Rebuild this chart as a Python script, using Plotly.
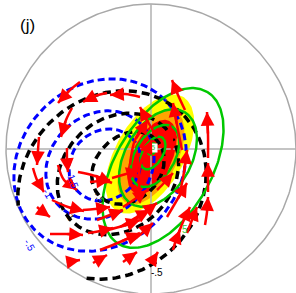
import numpy as np
import plotly.graph_objects as go

R = 145.0  # domain radius (data units)

# ---- shaded field (filled contours) ----
shade_colors = ['#ffff00', '#ffa500', '#ff0000']
shade_cx = [-1, 0, 1]
shade_cy = [-5, -8, -8]
shade_a = [66, 52, 40]
shade_b = [34, 26, 20]
shade_ang = [60, 62, 65]

# ---- green solid contours ----
green_cx = [12, 7, 4, 2, 1]
green_cy = [-19, -9, -7, -4, 0]
green_a = [88, 53, 34, 18, 6]
green_b = [48, 33, 20, 10, 4]
green_ang = [60, 60, 60, 60, 60]

# ---- black dashed contours ----
black_cx = [-39, -33, -23]
black_cy = [-36, -25, -19]
black_a = [100, 66, 40]
black_b = [88, 55, 32]
black_ang = [45, 45, 45]

# ---- blue dashed contours ----
blue_cx = [-51, -51, -46]
blue_cy = [-16, -16, -16]
blue_a = [92, 58, 38]
blue_b = [80, 50, 34]
blue_ang = [45, 45, 45]

# ---- red streamline arrows: tail, mid, head ----
tail_x = [-71, -44, -11, -79, -112, -84, -118, -93, -73, -114, -99, -68, -101, -63, -84, -58, -28, -51, -44, -31,
          -21, -1, 22, 36, 54, 57, 57, 34, 31, 6, -61, -39, -54, -28, -18, 6, 16, 29, 26, -11, 14, -21]
tail_y = [67, 56, 52, 41, 12, 1, -19, -16, -23, -58, -51, -61, -85, -84, -114, -114, -113, -101, -81, -78,
          -94, -114, -101, -84, -76, -43, -9, 39, -1, 12, -33, -29, -71, -58, -73, -41, -68, -44, -88, -46, -26, -16]
mid_x = [-81, -56, -26, -85, -113, -84, -114, -87, -56, -108, -83, -56, -85, -51, -77, -51, -21, -31, -28, -16,
         -9, 3, 25, 41, 56, 57, 57, 27, 26, -3, -51, -25, -41, -16, -6, 14, 26, 33, 32, -11, 21, -16]
mid_y = [59, 53, 55, 29, -1, -11, -31, -31, -27, -63, -58, -60, -85, -82, -112, -110, -108, -93, -77, -69,
         -84, -109, -91, -71, -63, -29, 14, 54, 24, 27, -32, -25, -66, -50, -63, -33, -51, -23, -73, -16, -1, 9]
head_x = [-93, -68, -41, -90, -114, -83, -107, -74, -39, -101, -67, -41, -68, -38, -71, -44, -14, -11, -11, -1,
          2, 7, 29, 46, 57, 57, 56, 21, 22, -11, -41, -11, -28, -4, 6, 22, 36, 36, 39, 1, 19, -3]
head_y = [46, 47, 54, 12, -16, -23, -43, -41, -34, -68, -62, -58, -86, -79, -111, -106, -103, -84, -71, -61,
          -74, -103, -81, -58, -48, -14, 37, 69, 46, 42, -31, -21, -61, -41, -54, -24, -34, -1, -58, 9, 24, 29]

# ---- contour labels ----
lab_text = ['-.5', '-1', '-.5', '-1.5', '-1', '-.5', '5']
lab_x = [6, -81, -51, -78, -103, -121, 34]
lab_y = [-123, -66, -48, -31, -44, -96, -80]
lab_color = ['black', 'black', 'black', 'blue', 'blue', 'blue', '#33cc33']
lab_angle = [0, 60, 50, 70, 60, 60, 0]

# centre marker
centre_x = [2]
centre_y = [1]


def ellipse(cx, cy, a, b, ang, clip=True):
    t = np.linspace(0, 2 * np.pi, 241)
    th = np.deg2rad(ang)
    x = cx + a * np.cos(t) * np.cos(th) - b * np.sin(t) * np.sin(th)
    y = cy + a * np.cos(t) * np.sin(th) + b * np.sin(t) * np.cos(th)
    xs, ys = [], []
    for xi, yi in zip(x, y):
        if clip and xi * xi + yi * yi > R * R:
            xs.append(None); ys.append(None)
        else:
            xs.append(float(xi)); ys.append(float(yi))
    return xs, ys


fig = go.Figure()

# shaded
for c, cx, cy, a, b, ang in zip(shade_colors, shade_cx, shade_cy, shade_a, shade_b, shade_ang):
    xs, ys = ellipse(cx, cy, a, b, ang, clip=False)
    fig.add_trace(go.Scatter(x=xs, y=ys, mode='lines', fill='toself', fillcolor=c,
                             line=dict(width=0, color=c), hoverinfo='skip', showlegend=False))

# domain circle + cross
tc = np.linspace(0, 2 * np.pi, 361)
fig.add_trace(go.Scatter(x=R * np.cos(tc), y=R * np.sin(tc), mode='lines',
                         line=dict(color='#a8a8a8', width=1.5), hoverinfo='skip', showlegend=False))
fig.add_trace(go.Scatter(x=[-R, R, None, 0, 0], y=[0, 0, None, -R, R], mode='lines',
                         line=dict(color='#b0b0b0', width=1.5), hoverinfo='skip', showlegend=False))


def family(cxs, cys, As, Bs, angs, color, width, dash):
    X, Y = [], []
    for cx, cy, a, b, ang in zip(cxs, cys, As, Bs, angs):
        xs, ys = ellipse(cx, cy, a, b, ang)
        X += xs + [None]; Y += ys + [None]
    fig.add_trace(go.Scatter(x=X, y=Y, mode='lines', line=dict(color=color, width=width, dash=dash),
                             hoverinfo='skip', showlegend=False))


family(blue_cx, blue_cy, blue_a, blue_b, blue_ang, '#0000ff', 3, '7px,4px')
family(black_cx, black_cy, black_a, black_b, black_ang, '#000000', 3.5, '8px,5px')
family(green_cx, green_cy, green_a, green_b, green_ang, '#00c800', 2.5, 'solid')

fig.add_trace(go.Scatter(x=centre_x, y=centre_y, mode='markers+text', text=['5'],
                         textfont=dict(size=8, color='#33cc33', family='Liberation Sans'),
                         textposition='middle center',
                         marker=dict(symbol='square', size=9, color='white'),
                         hoverinfo='skip', showlegend=False))

# red streamlines
SX, SY = [], []
for x0, y0, xm, ym, x1, y1 in zip(tail_x, tail_y, mid_x, mid_y, head_x, head_y):
    SX += [x0, xm, x1, None]; SY += [y0, ym, y1, None]
fig.add_trace(go.Scatter(x=SX, y=SY, mode='lines', line=dict(color='#ff0000', width=2.5, shape='spline'),
                         hoverinfo='skip', showlegend=False))

ann = []
for xm, ym, x1, y1 in zip(mid_x, mid_y, head_x, head_y):
    ann.append(dict(x=x1, y=y1, ax=xm, ay=ym, xref='x', yref='y', axref='x', ayref='y',
                    showarrow=True, arrowhead=2, arrowsize=1.1, arrowwidth=2.5,
                    arrowcolor='#ff0000', standoff=0, text=''))

for t, x, y, c, a in zip(lab_text, lab_x, lab_y, lab_color, lab_angle):
    ann.append(dict(x=x, y=y, xref='x', yref='y', text=t, showarrow=False, textangle=a,
                    font=dict(family='Liberation Sans', size=10, color=c)))

ann.append(dict(x=-124, y=124, xref='x', yref='y', text='(j)', showarrow=False,
                font=dict(family='Liberation Sans', size=17, color='black')))

fig.update_layout(width=296, height=293, margin=dict(l=0, r=0, t=0, b=0),
                  paper_bgcolor='white', plot_bgcolor='white', annotations=ann,
                  xaxis=dict(range=[-151, 145], visible=False, fixedrange=True),
                  yaxis=dict(range=[-144, 149], visible=False, fixedrange=True))

fig.write_html("out.html", config={'displayModeBar': False},
               post_script="document.body.style.margin='0';document.body.style.padding='0';")
